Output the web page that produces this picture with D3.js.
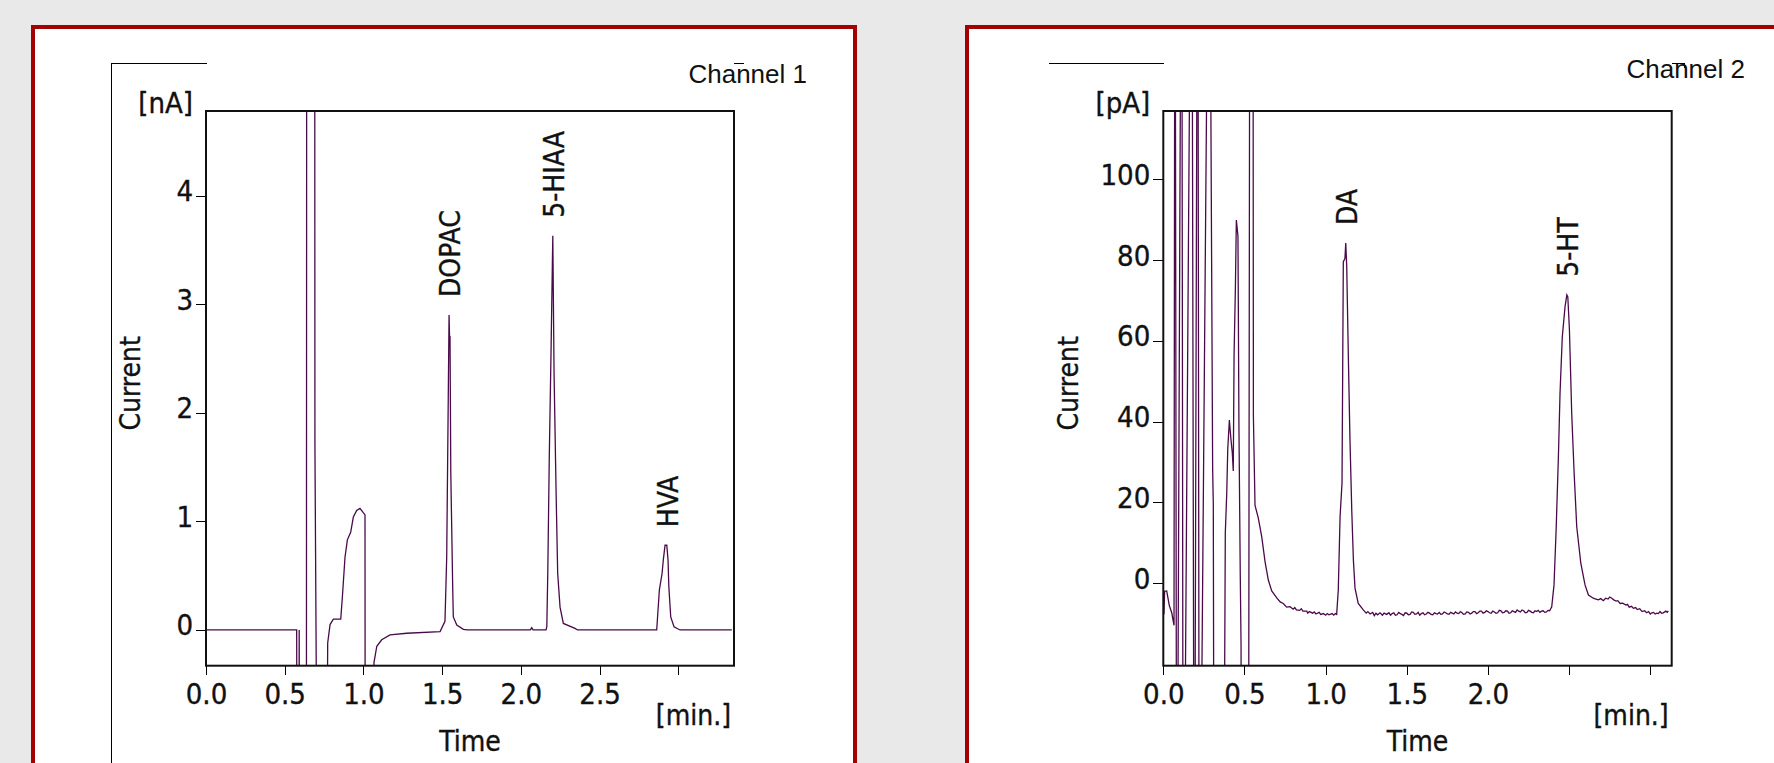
<!DOCTYPE html>
<html>
<head>
<meta charset="utf-8">
<script src="https://d3js.org/d3.v7.min.js"></script>
<style>
  body { margin: 0; background: #e9e9e9; }
  svg { display: block; }
  .lbl { font-family: "DejaVu Sans Condensed", "DejaVu Sans", sans-serif; font-stretch: condensed; fill: #111; stroke: #111; stroke-width: 0.35px; }
  .chan { font-family: "Liberation Sans", Arial, sans-serif; fill: #111; }
</style>
</head>
<body>
<script>
// channel 1 trace [min, nA]
const channel1Trace = [
    [0, 0], [0.576, 0], [0.577, -1], [0.591, -1], [0.592, 0], [0.593, -1], [0.638, -1], [0.640, 8],
    [0.690, 8], [0.692, 1.70], [0.703, -1], [0.770, -1], [0.773, -0.12], [0.788, 0.05], [0.809, 0.10],
    [0.856, 0.10], [0.868, 0.34], [0.883, 0.67], [0.898, 0.83], [0.919, 0.90], [0.936, 1.04],
    [0.957, 1.10], [0.978, 1.12], [0.999, 1.08], [1.010, 1.06], [1.011, -1], [1.065, -1],
    [1.067, -0.30], [1.085, -0.15], [1.116, -0.09], [1.169, -0.046], [1.275, -0.03], [1.487, -0.015],
    [1.518, 0.08], [1.529, 0.67], [1.539, 2.15], [1.544, 2.90], [1.547, 2.70], [1.550, 2.70],
    [1.555, 1.45], [1.567, 0.40], [1.571, 0.12], [1.593, 0.046], [1.635, 0.006], [1.66, 0],
    [2.060, 0], [2.069, 0.02], [2.078, 0], [2.160, 0], [2.165, 0.03], [2.171, 0.52], [2.181, 1.63],
    [2.192, 2.58], [2.200, 3.35], [2.203, 3.63], [2.211, 2.36], [2.224, 1.26], [2.234, 0.52],
    [2.249, 0.21], [2.270, 0.06], [2.344, 0.015], [2.36, 0], [2.863, 0], [2.880, 0.37], [2.897, 0.52],
    [2.905, 0.645], [2.916, 0.78], [2.927, 0.78], [2.935, 0.645], [2.940, 0.40], [2.952, 0.12],
    [2.973, 0.03], [3.011, 0], [3.34, 0]
];

// channel 2 trace [min, pA]
const channel2Trace = [
    [0.000, -2.3], [0.004, -7.7], [0.008, -2.0], [0.021, -1.9], [0.037, -5.5], [0.052, -7.3],
    [0.066, -10.4], [0.072, 200], [0.083, -100], [0.113, 200], [0.123, -100], [0.175, 200],
    [0.191, -100], [0.212, 200], [0.222, -100], [0.283, 200], [0.304, 28.3], [0.308, 19.7],
    [0.314, -100], [0.369, -100], [0.382, 12.5], [0.391, 22.4], [0.397, 33.2], [0.407, 40.4],
    [0.417, 35.5], [0.425, 32.3], [0.431, 27.8], [0.436, 56.6], [0.444, 72.8], [0.450, 89.9],
    [0.460, 85.9], [0.466, 38.7], [0.474, 2.6], [0.479, -15.4], [0.483, -100], [0.524, -100],
    [0.534, 200], [0.552, 200], [0.555, 41.4], [0.565, 19.3], [0.585, 16.2], [0.606, 11.6],
    [0.627, 5.3], [0.647, 0.8], [0.668, -1.9], [0.699, -3.6], [0.72, -4.6], [0.739, -5.0], [0.76, -5.9],
    [0.781, -5.8], [0.80, -6.4], [0.81, -6.0], [0.82, -6.6], [0.84, -6.7], [0.85, -6.3], [0.86, -6.9],
    [0.884, -6.9], [0.89, -7.4], [0.90, -7.0], [0.92, -7.4], [0.93, -7.1], [0.94, -7.6], [0.96, -7.2],
    [0.97, -7.7], [0.986, -7.5], [1.00, -7.9], [1.01, -7.5], [1.02, -7.8], [1.04, -7.5], [1.05, -7.9],
    [1.06, -7.5], [1.068, -7.7], [1.078, -1.7], [1.089, 16.5], [1.101, 24.8], [1.105, 52], [1.109, 79.6],
    [1.119, 80.4], [1.124, 84.2], [1.130, 78.4], [1.140, 56.1], [1.150, 35.5], [1.161, 18.1],
    [1.171, 5.8], [1.181, -1.2], [1.201, -5.0], [1.232, -6.6], [1.25, -7.4], [1.26, -7.0], [1.274, -7.6],
    [1.29, -7.2], [1.30, -8.0], [1.31, -7.4], [1.32, -7.8], [1.335, -7.3], [1.35, -7.9], [1.36, -7.4],
    [1.376, -7.7], [1.39, -7.3], [1.40, -7.9], [1.41, -7.5], [1.42, -7.3], [1.43, -7.9], [1.44, -7.8],
    [1.45, -7.2], [1.46, -7.5], [1.47, -7.7], [1.48, -8.0], [1.49, -7.3], [1.50, -7.4], [1.51, -7.8],
    [1.52, -7.7], [1.53, -7.1], [1.54, -7.2], [1.55, -7.7], [1.56, -7.6], [1.57, -7.2], [1.58, -7.9],
    [1.59, -7.5], [1.60, -7.3], [1.61, -7.8], [1.62, -7.6], [1.63, -7.2], [1.64, -7.4], [1.65, -7.7],
    [1.66, -7.8], [1.67, -7.3], [1.68, -7.5], [1.69, -7.6], [1.70, -7.2], [1.71, -7.7], [1.72, -7.6],
    [1.73, -7.1], [1.74, -7.3], [1.75, -7.6], [1.76, -7.7], [1.77, -7.2], [1.78, -7.4], [1.79, -7.6],
    [1.80, -7.1], [1.81, -7.4], [1.82, -7.5], [1.83, -7.0], [1.84, -7.3], [1.85, -7.7], [1.86, -7.6],
    [1.87, -7.1], [1.88, -7.2], [1.89, -7.6], [1.90, -7.4], [1.91, -7.0], [1.92, -7.0], [1.93, -7.5],
    [1.94, -7.3], [1.95, -6.9], [1.96, -6.9], [1.97, -7.4], [1.98, -7.2], [1.99, -6.8], [2.00, -7.0],
    [2.01, -7.3], [2.02, -7.4], [2.03, -6.9], [2.04, -7.1], [2.05, -7.4], [2.06, -7.3], [2.07, -6.7],
    [2.08, -6.8], [2.09, -7.3], [2.10, -7.2], [2.11, -6.8], [2.12, -6.9], [2.13, -7.4], [2.14, -7.3],
    [2.15, -6.8], [2.16, -7.0], [2.17, -7.2], [2.18, -6.6], [2.19, -6.9], [2.20, -7.1], [2.21, -6.6],
    [2.22, -6.8], [2.23, -7.3], [2.24, -7.2], [2.25, -6.7], [2.26, -6.9], [2.27, -7.2], [2.28, -7.3],
    [2.29, -6.8], [2.30, -7.0], [2.31, -6.7], [2.32, -7.2], [2.33, -6.9], [2.34, -6.8], [2.35, -7.2],
    [2.36, -7.1], [2.37, -6.7], [2.38, -6.8], [2.393, -5.8],
    [2.407, -0.4], [2.420, 13.2], [2.434, 31.3], [2.444, 47.0], [2.458, 61.0], [2.475, 68.5],
    [2.486, 71.4], [2.492, 70.9], [2.502, 62.7], [2.516, 42.1], [2.531, 27.2], [2.547, 14.0],
    [2.572, 5.0], [2.598, -0.4], [2.619, -2.9], [2.649, -3.7], [2.665, -3.9], [2.68, -4.1], [2.695, -3.8],
    [2.711, -4.3], [2.725, -3.7], [2.74, -3.9], [2.75, -3.4], [2.763, -3.7], [2.775, -4.1], [2.79, -4.4],
    [2.80, -4.3], [2.814, -5.0], [2.83, -4.9], [2.85, -5.4], [2.86, -5.2], [2.87, -5.9], [2.885, -5.7],
    [2.896, -6.2], [2.91, -6.0], [2.92, -6.5], [2.935, -6.3], [2.95, -7.0], [2.965, -6.8], [2.978, -7.3],
    [2.99, -7.0], [3.00, -7.6], [3.01, -7.3], [3.02, -7.2], [3.03, -7.6], [3.040, -7.4], [3.05, -7.5],
    [3.06, -7.0], [3.07, -7.4], [3.08, -7.3], [3.095, -6.9], [3.105, -7.2], [3.111, -6.8]
];

const ch1PeakNames = ['DOPAC', '5-HIAA', 'HVA'];
const ch1PeakTimes = [1.544, 2.203, 2.927];
const ch1PeakHeights = [2.90, 3.63, 0.78];

const ch2PeakNames = ['DA', '5-HT'];
const ch2PeakTimes = [1.124, 2.486];
const ch2PeakHeights = [84.2, 71.4];

const ch1YTicks = [0, 1, 2, 3, 4];
const ch2YTicks = [0, 20, 40, 60, 80, 100];
const xTicks = [0, 0.5, 1.0, 1.5, 2.0, 2.5, 3.0];
const ch1XLabels = ['0.0', '0.5', '1.0', '1.5', '2.0', '2.5', ''];
const ch2XLabels = ['0.0', '0.5', '1.0', '1.5', '2.0', '', ''];

const svg = d3.select('body')
    .append('svg')
    .attr('width', 1774)
    .attr('height', 763);

const drawChannel = (cfg) => {
    const g = svg.append('g');

    // red panel box
    g.append('rect')
        .attr('x', cfg.boxX).attr('y', 27)
        .attr('width', cfg.boxW).attr('height', 800)
        .attr('fill', '#fff')
        .attr('stroke', '#a30000')
        .attr('stroke-width', 4);

    const x = d3.scaleLinear().domain(cfg.xDomain).range([cfg.left, cfg.right]);
    const y = d3.scaleLinear().domain(cfg.yDomain).range([cfg.bottom, cfg.top]);

    // thin decoration lines above plot
    g.append('path')
        .attr('d', cfg.deco)
        .attr('fill', 'none')
        .attr('stroke', '#000')
        .attr('stroke-width', 1)
        .attr('shape-rendering', 'crispEdges');

    g.append('text')
        .attr('class', 'chan')
        .attr('x', cfg.chanX).attr('y', cfg.chanY)
        .attr('text-anchor', 'end')
        .attr('font-size', '26px')
        .text(cfg.name);

    const clipId = 'clip-' + cfg.id;
    svg.append('defs').append('clipPath').attr('id', clipId)
        .append('rect')
        .attr('x', cfg.left).attr('y', cfg.top)
        .attr('width', cfg.right - cfg.left).attr('height', cfg.bottom - cfg.top);

    const xAxis = d3.axisBottom(x)
        .tickValues(xTicks)
        .tickSize(9)
        .tickPadding(9)
        .tickFormat((d, i) => cfg.xLabels[i]);

    const yAxis = d3.axisLeft(y)
        .tickValues(cfg.yTicks)
        .tickSize(10)
        .tickPadding(3)
        .tickFormat(d => d);

    const gx = g.append('g')
        .attr('transform', 'translate(0,' + cfg.bottom + ')')
        .call(xAxis);
    const gy = g.append('g')
        .attr('transform', 'translate(' + cfg.left + ',0)')
        .call(yAxis);

    [gx, gy].forEach(a => {
        a.select('.domain').remove();
        a.selectAll('line').attr('stroke', '#000').attr('shape-rendering', 'crispEdges');
        a.selectAll('text')
            .attr('class', 'lbl')
            .attr('font-size', '29px')
            .attr('font-family', null);
    });
    gy.selectAll('text').attr('dy', '5px');

    // the trace
    const line = d3.line()
        .x(d => x(d[0]))
        .y(d => y(d[1]));

    g.append('path')
        .datum(cfg.trace)
        .attr('clip-path', 'url(#' + clipId + ')')
        .attr('fill', 'none')
        .attr('stroke', '#4a0a4a')
        .attr('stroke-width', 1.3)
        .attr('d', line);

    // frame
    g.append('rect')
        .attr('x', cfg.left).attr('y', cfg.top)
        .attr('width', cfg.right - cfg.left).attr('height', cfg.bottom - cfg.top)
        .attr('fill', 'none')
        .attr('stroke', '#111')
        .attr('stroke-width', 2);

    // peak names
    g.selectAll('.peak-label')
        .data(cfg.peakNames)
        .enter()
        .append('text')
        .attr('class', 'lbl peak-label')
        .attr('font-size', '28px')
        .attr('transform', (d, i) => {
            return 'translate(' + (x(cfg.peakTimes[i]) + 11) + ',' + (y(cfg.peakHeights[i]) - 18) + ') rotate(-90)';
        })
        .text(d => d);

    // axis titles
    g.append('text')
        .attr('class', 'lbl')
        .attr('font-size', '29px')
        .attr('text-anchor', 'end')
        .attr('x', cfg.left - 13).attr('y', 113)
        .text(cfg.unit);

    g.append('text')
        .attr('class', 'lbl')
        .attr('font-size', '28px')
        .attr('text-anchor', 'middle')
        .attr('transform', 'translate(' + cfg.currentX + ',' + ((cfg.top + cfg.bottom) / 2 - 5) + ') rotate(-90)')
        .text('Current');

    g.append('text')
        .attr('class', 'lbl')
        .attr('font-size', '28px')
        .attr('text-anchor', 'middle')
        .attr('x', (cfg.left + cfg.right) / 2).attr('y', 751)
        .text('Time');

    g.append('text')
        .attr('class', 'lbl')
        .attr('font-size', '28px')
        .attr('text-anchor', 'end')
        .attr('x', cfg.right - 3).attr('y', 725)
        .text('[min.]');
};

drawChannel({
    id: 'c1', name: 'Channel 1', unit: '[nA]',
    boxX: 33, boxW: 822,
    left: 206, right: 734, top: 111, bottom: 665.7,
    xDomain: [0, 3.354], yDomain: [-0.329, 4.779],
    xLabels: ch1XLabels, yTicks: ch1YTicks,
    trace: channel1Trace,
    peakNames: ch1PeakNames, peakTimes: ch1PeakTimes, peakHeights: ch1PeakHeights,
    chanX: 807, chanY: 83,
    currentX: 140,
    deco: 'M206.5,63.5H111.5V763M734,63.5H744'
});

drawChannel({
    id: 'c2', name: 'Channel 2', unit: '[pA]',
    boxX: 967, boxW: 900,
    left: 1163.3, right: 1671.7, top: 111, bottom: 665.7,
    xDomain: [0, 3.132], yDomain: [-20.4, 116.9],
    xLabels: ch2XLabels, yTicks: ch2YTicks,
    trace: channel2Trace,
    peakNames: ch2PeakNames, peakTimes: ch2PeakTimes, peakHeights: ch2PeakHeights,
    chanX: 1745, chanY: 78,
    currentX: 1078,
    deco: 'M1049,63.5H1163.5M1671.7,63.5H1684V68'
});
</script>
</body>
</html>
